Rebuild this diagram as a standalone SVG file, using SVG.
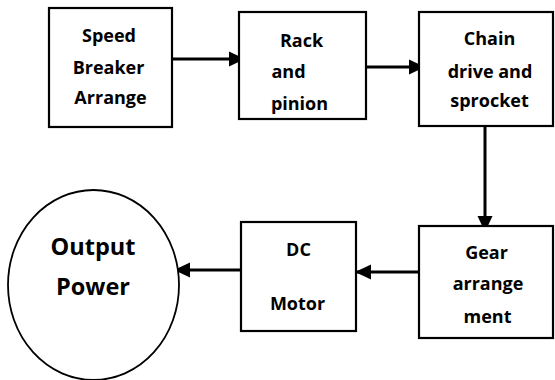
<svg xmlns="http://www.w3.org/2000/svg" width="555" height="380" viewBox="0 0 555 380">
<style>
.box{fill:#fff;stroke:#000;stroke-width:2.2}
.t{font-family:"Open Sans","Liberation Sans",sans-serif;font-weight:700;font-size:18px;text-anchor:middle;fill:#000}
.big{font-size:23.5px}
.c{stroke:#000;stroke-width:3;fill:none;marker-end:url(#ah)}
</style>
<defs>
<marker id="ah" markerUnits="userSpaceOnUse" markerWidth="17" markerHeight="17" viewBox="0 0 17 17" refX="16" refY="8.5" orient="auto">
<path d="M0,1 L16,8.5 L0,16 Z" fill="#000"/>
</marker>
</defs>
<rect width="555" height="380" fill="#fff"/>
<g id="connectors">
<line class="c" x1="172" y1="59" x2="245" y2="59"/>
<line class="c" x1="366" y1="67" x2="425" y2="67"/>
<line class="c" x1="485" y1="126" x2="485" y2="232"/>
<line class="c" x1="419" y1="272" x2="355" y2="272"/>
<line class="c" x1="241" y1="270" x2="174" y2="270"/>
</g>
<g id="speed-breaker">
<rect class="box" x="49" y="8" width="123" height="119"/>
<text class="t" x="109" y="42">Speed</text>
<text class="t" x="108.5" y="74">Breaker</text>
<text class="t" x="110.5" y="104">Arrange</text>
</g>
<g id="rack-pinion">
<rect class="box" x="239" y="12" width="127" height="107"/>
<text class="t" x="301.5" y="47">Rack</text>
<text class="t" x="288.5" y="78">and</text>
<text class="t" x="299.5" y="110">pinion</text>
</g>
<g id="chain-drive">
<rect class="box" x="419" y="12" width="134" height="114"/>
<text class="t" x="489.5" y="45">Chain</text>
<text class="t" x="490" y="78">drive and</text>
<text class="t" x="489.5" y="107">sprocket</text>
</g>
<g id="gear">
<rect class="box" x="419" y="226" width="134" height="112"/>
<text class="t" x="486.5" y="259">Gear</text>
<text class="t" x="488" y="290">arrange</text>
<text class="t" x="487.5" y="323">ment</text>
</g>
<g id="dc-motor">
<rect class="box" x="241" y="222" width="115" height="109"/>
<text class="t" x="298.5" y="256">DC</text>
<text class="t" x="297.5" y="310">Motor</text>
</g>
<g id="output-power">
<ellipse cx="93.5" cy="285" rx="85.5" ry="95" fill="#fff" stroke="#000" stroke-width="1.8"/>
<text class="t big" x="93" y="255">Output</text>
<text class="t big" x="93" y="295">Power</text>
</g>
</svg>
